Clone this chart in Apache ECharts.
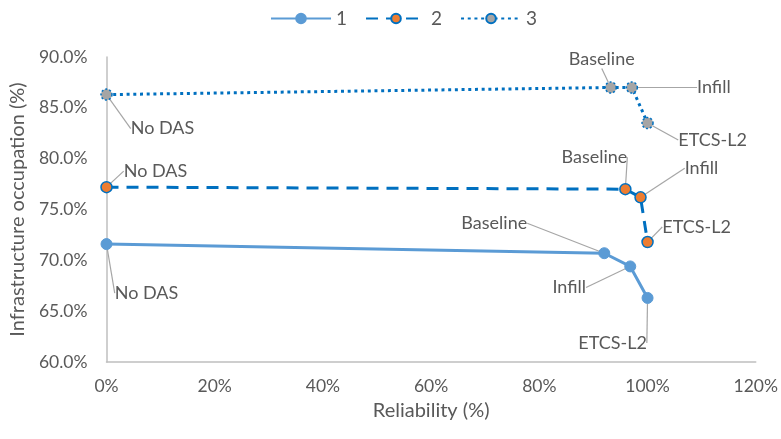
<!DOCTYPE html>
<html>
<head>
<meta charset="utf-8">
<script src="https://cdn.jsdelivr.net/npm/echarts@6/dist/echarts.min.js"></script>
<style>
  html, body { margin: 0; padding: 0; background: #fff; }
  #chart { width: 781px; height: 439px; }
</style>
</head>
<body>
<div id="chart"></div>
<script>
// Train control scenarios, one point per scenario
const scenarioNames = ['No DAS', 'Baseline', 'Infill', 'ETCS-L2'];

// Series 1
const reliability1 = [0, 92.0, 96.8, 100];
const occupation1 = [71.6, 70.7, 69.4, 66.3];

// Series 2
const reliability2 = [0, 95.9, 98.7, 100];
const occupation2 = [77.2, 77.0, 76.2, 71.8];

// Series 3
const reliability3 = [0, 93.2, 97.1, 100];
const occupation3 = [86.3, 87.0, 87.0, 83.5];

const seriesNames = ['1', '2', '3'];

// Axis ranges and ticks
const xMin = 0, xMax = 120, xStep = 20;
const yMin = 60, yMax = 90, yStep = 5;

// Callout offsets (px) of each scenario label from its point, per series
const labelOffsets = [
  [[40, 49], [-110, -30], [-61, 21], [-35, 45]],
  [[49, -16], [-31, -32], [61, -29], [49, -15]],
  [[56, 34], [-9, -28], [82, 0], [65, 17]]
];

const textColor = '#595959';
const axisColor = '#bfbfbf';
const leaderColor = '#a6a6a6';
const fontFamily = 'Lato, Open Sans, sans-serif';

function points(xs, ys) {
  return xs.map((x, i) => ({ value: [x, ys[i]], name: scenarioNames[i] }));
}

function calloutSeries(idx, name, xs, ys, lineStyle, itemStyle) {
  return {
    name: name,
    type: 'line',
    data: points(xs, ys),
    symbol: 'circle',
    symbolSize: 11,
    lineStyle: lineStyle,
    itemStyle: itemStyle,
    emphasis: { disabled: true },
    z: 3 + idx,
    label: {
      show: true,
      position: 'inside',
      formatter: p => p.name,
      color: textColor,
      fontSize: 18,
      fontFamily: fontFamily
    },
    labelLine: {
      show: true,
      lineStyle: { color: leaderColor, width: 1.2 }
    },
    labelLayout: p => {
      const off = labelOffsets[idx][p.dataIndex];
      return { dx: off[0], dy: off[1] };
    }
  };
}

const chart = echarts.init(document.getElementById('chart'), null, { renderer: 'canvas' });

chart.setOption({
  animation: false,
  backgroundColor: '#ffffff',
  textStyle: { fontFamily: fontFamily },
  legend: {
    top: 4,
    left: 265,
    itemWidth: 60,
    itemHeight: 12,
    itemGap: 18,
    textStyle: { color: textColor, fontSize: 19, fontFamily: fontFamily },
    data: seriesNames
  },
  grid: { left: 104, right: 19, top: 57, bottom: 77, containLabel: false },
  xAxis: {
    type: 'value',
    min: xMin,
    max: xMax,
    interval: xStep,
    name: 'Reliability (%)',
    nameLocation: 'middle',
    nameGap: 39,
    nameTextStyle: { color: textColor, fontSize: 20, fontFamily: fontFamily },
    axisLine: { show: true, onZero: false, lineStyle: { color: axisColor, width: 1.5 } },
    axisTick: { show: false },
    splitLine: { show: false },
    axisLabel: {
      color: textColor,
      fontSize: 17.5,
      margin: 15,
      fontFamily: fontFamily,
      formatter: v => v + '%'
    }
  },
  yAxis: {
    type: 'value',
    min: yMin,
    max: yMax,
    interval: yStep,
    name: 'Infrastructure occupation (%)',
    nameLocation: 'middle',
    nameGap: 76,
    nameTextStyle: { color: textColor, fontSize: 20, fontFamily: fontFamily },
    axisLine: { show: true, onZero: false, lineStyle: { color: axisColor, width: 1.5 } },
    axisTick: { show: false },
    splitLine: { show: false },
    axisLabel: {
      color: textColor,
      fontSize: 17.5,
      margin: 19,
      fontFamily: fontFamily,
      formatter: v => v.toFixed(1) + '%'
    }
  },
  series: [
    calloutSeries(0, seriesNames[0], reliability1, occupation1,
      { color: '#5b9bd5', width: 3 },
      { color: '#5b9bd5', borderColor: '#5b9bd5', borderWidth: 1 }),
    calloutSeries(1, seriesNames[1], reliability2, occupation2,
      { color: '#0070c0', width: 3, type: [12, 8] },
      { color: '#ed7d31', borderColor: '#0070c0', borderWidth: 1.5 }),
    calloutSeries(2, seriesNames[2], reliability3, occupation3,
      { color: '#0070c0', width: 3, type: [3, 3.7] },
      { color: '#a5a5a5', borderColor: '#0070c0', borderWidth: 1.5, borderType: [2, 2] })
  ]
});
</script>
</body>
</html>
